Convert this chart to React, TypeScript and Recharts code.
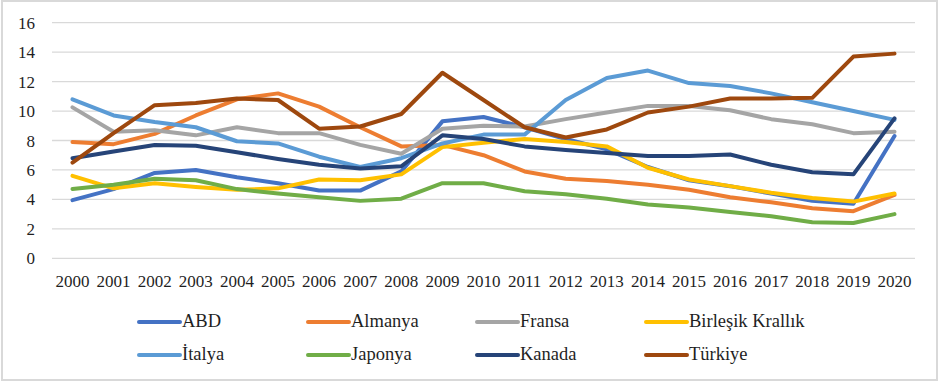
import React from "react";
import { LineChart, Line, XAxis, YAxis, CartesianGrid, Legend } from "recharts";

const years = [
  "2000", "2001", "2002", "2003", "2004", "2005", "2006", "2007", "2008", "2009", "2010",
  "2011", "2012", "2013", "2014", "2015", "2016", "2017", "2018", "2019", "2020",
];

const abd = [3.95, 4.7, 5.8, 6.0, 5.5, 5.1, 4.6, 4.6, 5.9, 9.3, 9.6, 8.9, 8.1, 7.4, 6.2, 5.3, 4.9, 4.4, 3.9, 3.7, 8.3];
const almanya = [7.9, 7.75, 8.45, 9.7, 10.8, 11.2, 10.3, 8.9, 7.6, 7.7, 7.0, 5.9, 5.4, 5.25, 5.0, 4.65, 4.15, 3.8, 3.4, 3.2, 4.3];
const fransa = [10.25, 8.6, 8.7, 8.35, 8.9, 8.5, 8.5, 7.7, 7.1, 8.8, 9.0, 8.95, 9.45, 9.9, 10.35, 10.35, 10.05, 9.45, 9.1, 8.5, 8.6];
const birlesikKrallik = [5.6, 4.75, 5.1, 4.85, 4.65, 4.75, 5.35, 5.3, 5.7, 7.55, 7.85, 8.1, 7.9, 7.6, 6.15, 5.35, 4.9, 4.45, 4.1, 3.85, 4.4];
const italya = [10.8, 9.7, 9.25, 8.9, 7.95, 7.8, 6.9, 6.2, 6.8, 7.8, 8.4, 8.4, 10.75, 12.25, 12.75, 11.9, 11.7, 11.2, 10.6, 10.0, 9.4];
const japonya = [4.7, 5.0, 5.4, 5.3, 4.7, 4.4, 4.15, 3.9, 4.05, 5.1, 5.1, 4.55, 4.35, 4.05, 3.65, 3.45, 3.15, 2.85, 2.45, 2.4, 3.0];
const kanada = [6.8, 7.25, 7.7, 7.65, 7.2, 6.75, 6.35, 6.1, 6.25, 8.35, 8.1, 7.6, 7.35, 7.15, 6.95, 6.95, 7.05, 6.35, 5.85, 5.7, 9.5];
const turkiye = [6.5, 8.5, 10.4, 10.55, 10.85, 10.75, 8.8, 8.95, 9.8, 12.6, 10.75, 8.9, 8.2, 8.75, 9.9, 10.3, 10.85, 10.85, 10.9, 13.7, 13.9];

const yTicks = [0, 2, 4, 6, 8, 10, 12, 14, 16];

const series = [
  { key: "ABD", values: abd, color: "#4472C4" },
  { key: "Almanya", values: almanya, color: "#ED7D31" },
  { key: "Fransa", values: fransa, color: "#A5A5A5" },
  { key: "Birleşik Krallık", values: birlesikKrallik, color: "#FFC000" },
  { key: "İtalya", values: italya, color: "#5B9BD5" },
  { key: "Japonya", values: japonya, color: "#70AD47" },
  { key: "Kanada", values: kanada, color: "#264478" },
  { key: "Türkiye", values: turkiye, color: "#9E480E" },
];

const seriesOrder = series.map((s) => s.key);

const data = years.map((year, i) => {
  const row: Record<string, string | number> = { year };
  series.forEach((s) => {
    row[s.key] = s.values[i];
  });
  return row;
});

const FONT = "'Liberation Serif', 'DejaVu Serif', 'Times New Roman', Times, serif";
const TEXT = "#1f1f1f";

// legend in the same order as the series, four per row
function LegendGrid({ payload }: any) {
  const items = [...(payload || [])].sort(
    (a: any, b: any) => seriesOrder.indexOf(a.value) - seriesOrder.indexOf(b.value)
  );
  return (
    <div style={{ display: "grid", gridTemplateColumns: "repeat(4, 169px)", fontFamily: FONT }}>
      {items.map((item: any) => (
        <div key={item.value} style={{ display: "flex", alignItems: "center", height: 33 }}>
          <svg width={45} height={6} style={{ display: "block" }}>
            <line x1={2} y1={3} x2={43} y2={3} stroke={item.color} strokeWidth={4} strokeLinecap='round' />
          </svg>
          <span style={{ fontSize: 18.5, color: TEXT, lineHeight: 1, fontFamily: FONT }}>{item.value}</span>
        </div>
      ))}
    </div>
  );
}

export default function App() {
  return (
    <div style={{ position: "absolute", left: 0, top: 0, width: 941, height: 384, background: "#fff", fontFamily: FONT }}>
      <div
        style={{
          position: "absolute",
          left: 1,
          top: 0,
          width: 937,
          height: 381,
          boxSizing: "border-box",
          border: "2px solid #d9d9d9",
          pointerEvents: "none",
        }}
      />
      <LineChart
        width={941}
        height={384}
        data={data}
        margin={{ top: 22.7, right: 26, bottom: 95.7, left: 0 }}
        style={{ fontFamily: FONT }}
      >
        <CartesianGrid vertical={false} stroke='#d9d9d9' strokeWidth={1.3} />
        <XAxis
          dataKey='year'
          height={30}
          padding={{ left: 20.5, right: 20.5 }}
          axisLine={false}
          tickLine={false}
          tickSize={0}
          tickMargin={17}
          interval={0}
          tick={{ fontSize: 17, fill: TEXT, fontFamily: FONT }}
        />
        <YAxis
          domain={[0, 16]}
          ticks={yTicks}
          width={52}
          axisLine={false}
          tickLine={false}
          tickSize={0}
          tickMargin={17}
          tick={{ fontSize: 17, fill: TEXT, fontFamily: FONT }}
        />
        {series.map((s) => (
          <Line
            key={s.key}
            type='linear'
            dataKey={s.key}
            stroke={s.color}
            strokeWidth={4}
            strokeLinecap='round'
            strokeLinejoin='round'
            dot={false}
            isAnimationActive={false}
          />
        ))}
        <Legend
          layout='horizontal'
          verticalAlign='middle'
          align='center'
          wrapperStyle={{ top: 305, left: 137, width: 676 }}
          content={LegendGrid}
        />
      </LineChart>
    </div>
  );
}
